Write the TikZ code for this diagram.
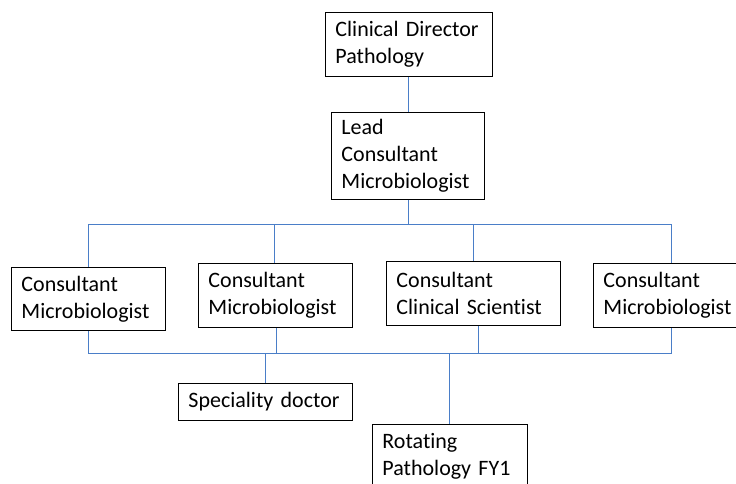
\documentclass[tikz,border=0pt]{standalone}
\usepackage{fontspec}
\setmainfont{Carlito}[Ligatures=NoCommon]
\definecolor{conn}{RGB}{74,126,200}
\begin{document}
\begin{tikzpicture}[x=1pt,y=-1pt,
  orgbox/.style={draw=black, line width=0.9pt, anchor=north west, align=left,
    inner xsep=10pt, inner ysep=0pt, font=\fontsize{22}{27}\selectfont},
  link/.style={draw=conn, line width=0.9pt}]
\useasboundingbox (0,0) rectangle (736,483);
\clip (0,0) rectangle (736,483);
% boxes
\node[orgbox, text width=147pt, minimum height=64pt] (cd) at (325,12) {Clinical Director\\Pathology};
\node[orgbox, text width=133pt, minimum height=87pt] (lead) at (331,112) {Lead\\Consultant\\Microbiologist};
\node[orgbox, text width=134pt, minimum height=63pt] (a) at (11,267) {Consultant\\Microbiologist};
\node[orgbox, text width=134pt, minimum height=64pt] (b) at (198,263) {Consultant\\Microbiologist};
\node[orgbox, text width=154pt, minimum height=64pt] (c) at (386,261) {Consultant\\Clinical Scientist};
\node[orgbox, text width=140pt, minimum height=64pt] (d) at (593,263) {Consultant\\Microbiologist};
\node[orgbox, text width=154pt, minimum height=37pt] (sd) at (178,383) {Speciality doctor};
\node[orgbox, text width=135pt, minimum height=64pt] (fy) at (372,424) {Rotating\\Pathology FY1};
% bus coordinates
\coordinate (top) at (408,224);
\coordinate (bot) at (450,353);
% connectors
\draw[link] (cd.south -| top) -- (lead.north -| top);
\draw[link] (lead.south -| top) -- (top);
\draw[link] (88,224 |- a.north) -- (88,224) -- (671,224) -- (671,224 |- d.north);
\draw[link] (274,224) -- (274,224 |- b.north);
\draw[link] (473,224) -- (473,224 |- c.north);
\draw[link] (88,353 |- a.south) -- (88,353) -- (671,353) -- (671,353 |- d.south);
\draw[link] (276,353 |- b.south) -- (276,353);
\draw[link] (478,353 |- c.south) -- (478,353);
\draw[link] (265,353) -- (265,353 |- sd.north);
\draw[link] (449,353) -- (449,353 |- fy.north);
\end{tikzpicture}
\end{document}
